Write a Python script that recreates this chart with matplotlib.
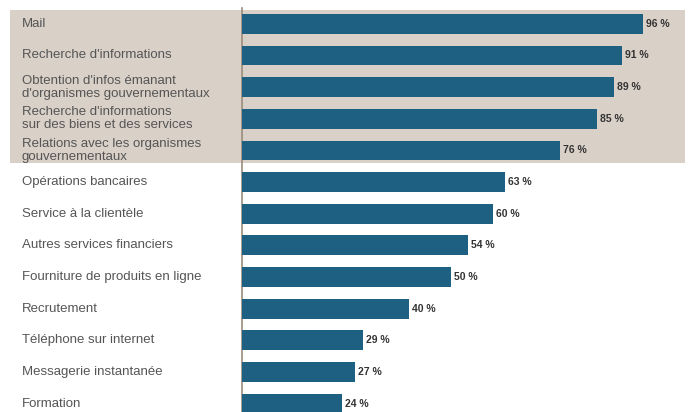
import matplotlib
matplotlib.use('Agg')
import matplotlib.pyplot as plt
import matplotlib.transforms as mtransforms
from matplotlib.patches import Rectangle

categories = [
    'Mail',
    "Recherche d'informations",
    "Obtention d'infos émanant\nd'organismes gouvernementaux",
    "Recherche d'informations\nsur des biens et des services",
    'Relations avec les organismes\ngouvernementaux',
    'Opérations bancaires',
    'Service à la clientèle',
    'Autres services financiers',
    'Fourniture de produits en ligne',
    'Recrutement',
    'Téléphone sur internet',
    'Messagerie instantanée',
    'Formation',
]
values = [96, 91, 89, 85, 76, 63, 60, 54, 50, 40, 29, 27, 24]

bar_color = '#1e6082'
shade_color = '#d9d0c8'

plt.rcParams['font.family'] = ['Liberation Sans', 'DejaVu Sans']

fig = plt.figure(figsize=(6.93, 4.12), dpi=100)
W, H = 693, 412
ax = fig.add_axes([242 / W, 0, (685 - 242) / W, (412 - 8) / H])
ax.patch.set_alpha(0)
ax.set_zorder(2)

# shaded block behind the top five items
fig.patches.append(Rectangle((10 / W, 1 - 163 / H), (685 - 10) / W, (163 - 10) / H,
                             transform=fig.transFigure, facecolor=shade_color,
                             edgecolor='none', zorder=-1))

pos = list(range(len(values)))
ax.barh(pos, values, height=0.63, color=bar_color, zorder=3)
ax.set_xlim(0, 106)
ax.set_ylim(12.26, -0.5)

for y, v in zip(pos, values):
    ax.text(v + 0.7, y, f'{v} %', va='center', ha='left', fontsize=7.5,
            fontweight='bold', color='#333333', zorder=4)

trans = mtransforms.blended_transform_factory(fig.transFigure, ax.transData)
for y, lab in zip(pos, categories):
    ax.text(22 / W, y, lab, transform=trans, va='center', ha='left',
            fontsize=9.5, color='#555555', linespacing=1.1)

for side in ['top', 'right', 'bottom']:
    ax.spines[side].set_visible(False)
ax.spines['left'].set_color('#9a8c7c')
ax.spines['left'].set_linewidth(1.2)
ax.set_xticks([])
ax.set_yticks([])

fig.savefig('out.png', dpi=100)
